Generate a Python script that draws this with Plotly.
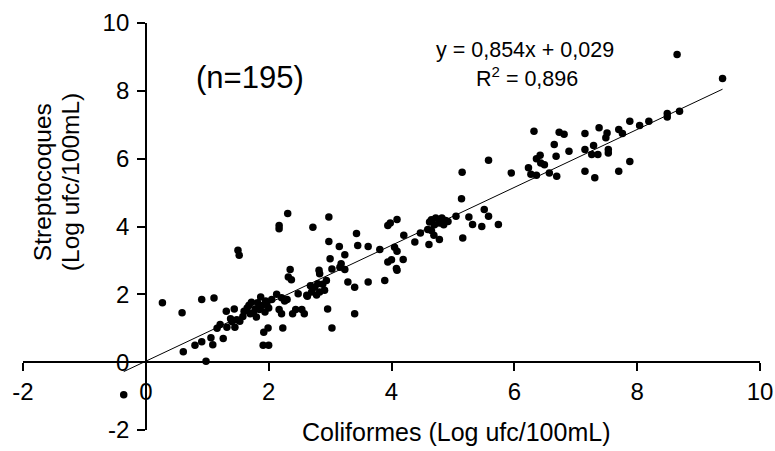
import plotly.graph_objects as go

# Coliformes (Log ufc/100mL)
coliformes = [
    0.27, 0.59, 0.91, 1.11, 0.61, 0.80, 0.91, 1.06, 1.09, 0.98, -0.36,
    1.26, 1.21, 1.32, 1.31, 1.44, 1.38, 1.45, 1.48, 1.53, 1.65, 1.70, 1.72, 1.78, 1.80,
    1.87, 1.89, 1.94, 1.97, 2.00, 1.92, 1.99, 1.91, 2.00, 2.13, 2.21, 2.26, 2.21, 2.23,
    2.32, 2.37, 2.39, 2.44, 2.48, 2.58, 2.63,
    1.60, 1.75, 1.82, 1.58, 1.68, 1.85, 2.05, 1.95, 1.40, 1.16, 2.30, 2.17,
    1.50, 1.52, 2.17, 2.17, 2.31, 2.35,
    2.72, 2.98, 2.98, 2.96, 3.03, 3.15, 3.24, 3.40, 3.43, 3.45, 3.29, 3.40, 3.62, 3.62,
    3.89, 3.81, 3.94, 3.94, 4.05, 4.08, 3.24,
    2.62, 2.70, 2.75, 2.80, 2.83, 2.91, 2.94, 2.82, 2.83, 3.00, 3.16, 2.54,
    3.03, 3.18, 4.19, 4.09, 3.98, 4.09, 4.09, 4.20, 4.38, 4.47, 4.59, 4.62,
    4.65, 4.72, 4.78, 4.82, 4.85, 4.88, 4.70, 4.92, 5.05, 4.61, 4.69, 4.78,
    2.68, 2.88, 2.78, 4.00, 4.65,
    5.15, 5.14, 5.58, 5.95, 5.26, 5.32, 5.47, 5.51, 5.58, 5.74, 5.16,
    6.32, 6.73, 6.81, 6.65, 6.23, 6.27, 6.36, 6.36, 6.42, 6.43, 6.49, 6.57, 6.68, 6.69,
    6.89, 7.15, 7.15, 7.15, 7.29, 7.26, 7.36, 7.31, 7.38, 7.51, 7.49, 7.53, 7.53,
    7.70, 7.76, 7.70, 8.65, 9.39, 8.49, 8.49, 8.69, 8.19, 8.04, 7.88, 7.88,
]

# Streptocoques (Log ufc/100mL)
streptocoques = [
    1.75, 1.46, 1.85, 1.89, 0.31, 0.50, 0.60, 0.72, 0.51, 0.03, -0.96,
    0.70, 1.11, 1.03, 1.50, 1.57, 1.28, 1.03, 1.25, 1.21, 1.60, 1.43, 1.77, 1.57, 1.33,
    1.92, 1.67, 1.48, 1.72, 1.60, 0.88, 1.01, 0.50, 0.50, 2.00, 1.90, 1.80, 1.43, 1.01,
    2.51, 2.43, 1.43, 1.55, 2.02, 1.43, 1.94,
    1.50, 1.45, 1.75, 1.35, 1.68, 1.55, 1.85, 1.80, 1.20, 1.00, 1.85, 1.55,
    3.30, 3.15, 4.03, 3.93, 4.38, 2.73,
    3.98, 4.28, 3.56, 1.57, 1.01, 3.41, 3.17, 1.43, 3.79, 3.44, 2.36, 2.21, 3.41, 2.36,
    2.41, 3.32, 4.03, 2.95, 3.39, 2.76, 2.73,
    1.97, 2.07, 2.21, 2.31, 2.07, 2.12, 2.41, 2.71, 2.61, 3.05, 2.80, 1.55,
    2.75, 2.90, 3.03, 2.71, 4.10, 4.21, 3.27, 3.74, 3.54, 3.81, 3.91, 4.13,
    4.20, 4.25, 4.10, 4.25, 4.05, 4.18, 4.05, 4.15, 4.30, 3.47, 3.74, 3.62,
    2.25, 2.30, 1.98, 3.02, 3.88,
    5.60, 4.82, 5.95, 5.58, 4.28, 4.06, 4.00, 4.50, 4.30, 4.06, 3.66,
    6.81, 6.78, 6.72, 6.42, 5.73, 5.54, 5.51, 6.00, 6.10, 5.87, 5.82, 5.58, 6.07, 5.48,
    6.22, 6.74, 6.27, 5.63, 6.39, 6.12, 6.12, 5.44, 6.91, 6.76, 6.62, 6.27, 6.17,
    6.86, 6.74, 5.63, 9.07, 8.36, 7.33, 7.23, 7.40, 7.10, 6.98, 7.10, 5.92,
]

slope = 0.854
intercept = 0.029
r_squared = "0,896"
n_label = "(n=195)"

x_ticks = [-2, 0, 2, 4, 6, 8, 10]
y_ticks = [-2, 0, 2, 4, 6, 8, 10]

FONT = "Liberation Sans, Arial, sans-serif"

line_x = [min(coliformes), max(coliformes)]
line_y = [slope * v + intercept for v in line_x]

fig = go.Figure()
fig.add_trace(go.Scatter(
    x=line_x, y=line_y, mode="lines",
    line=dict(color="black", width=1), showlegend=False, hoverinfo="skip"))
fig.add_trace(go.Scatter(
    x=coliformes, y=streptocoques, mode="markers",
    marker=dict(color="black", size=7.5), showlegend=False))

axis_common = dict(
    range=[-2, 10], showgrid=False, zeroline=False, showline=True,
    linecolor="black", linewidth=1.5, ticks="outside", ticklen=8, tickwidth=1.5,
    tickcolor="black", anchor="free", position=2 / 12, automargin=False,
    tickfont=dict(size=24, family=FONT, color="black"),
)

fig.update_layout(
    width=775, height=451,
    margin=dict(l=23, r=15, t=23, b=21),
    paper_bgcolor="white", plot_bgcolor="white",
    font=dict(family=FONT, color="black", size=24),
    xaxis=dict(tickvals=x_ticks, ticktext=[str(v) for v in x_ticks],
               ticklabelstandoff=0, **axis_common),
    yaxis=dict(tickvals=y_ticks, ticktext=[str(v) for v in y_ticks],
               ticklabelstandoff=3, **axis_common),
)

ann = [
    dict(text="Streptocoques", x=0.0258, y=0.609, textangle=-90, font=dict(size=24.5)),
    dict(text="(Log ufc/100mL)", x=0.0638, y=0.609, textangle=-90, font=dict(size=24.5)),
    dict(text="Coliformes (Log ufc/100mL)", x=0.587, y=-0.005, font=dict(size=25)),
    dict(text=n_label, x=0.308, y=0.867, font=dict(size=31)),
    dict(text=f"y = {str(slope).replace('.', ',')}x + {str(intercept).replace('.', ',')}",
         x=0.681, y=0.934, font=dict(size=21.5)),
    dict(text=f"R<sup>2</sup> = {r_squared}", x=0.684, y=0.867, font=dict(size=21.5)),
]
for a in ann:
    fig.add_annotation(xref="paper", yref="paper", showarrow=False,
                       xanchor="center", yanchor="middle", **a)

fig.write_html(
    "out.html",
    config={"displayModeBar": False},
    post_script="document.body.style.margin='0';document.body.style.overflow='hidden';",
)
